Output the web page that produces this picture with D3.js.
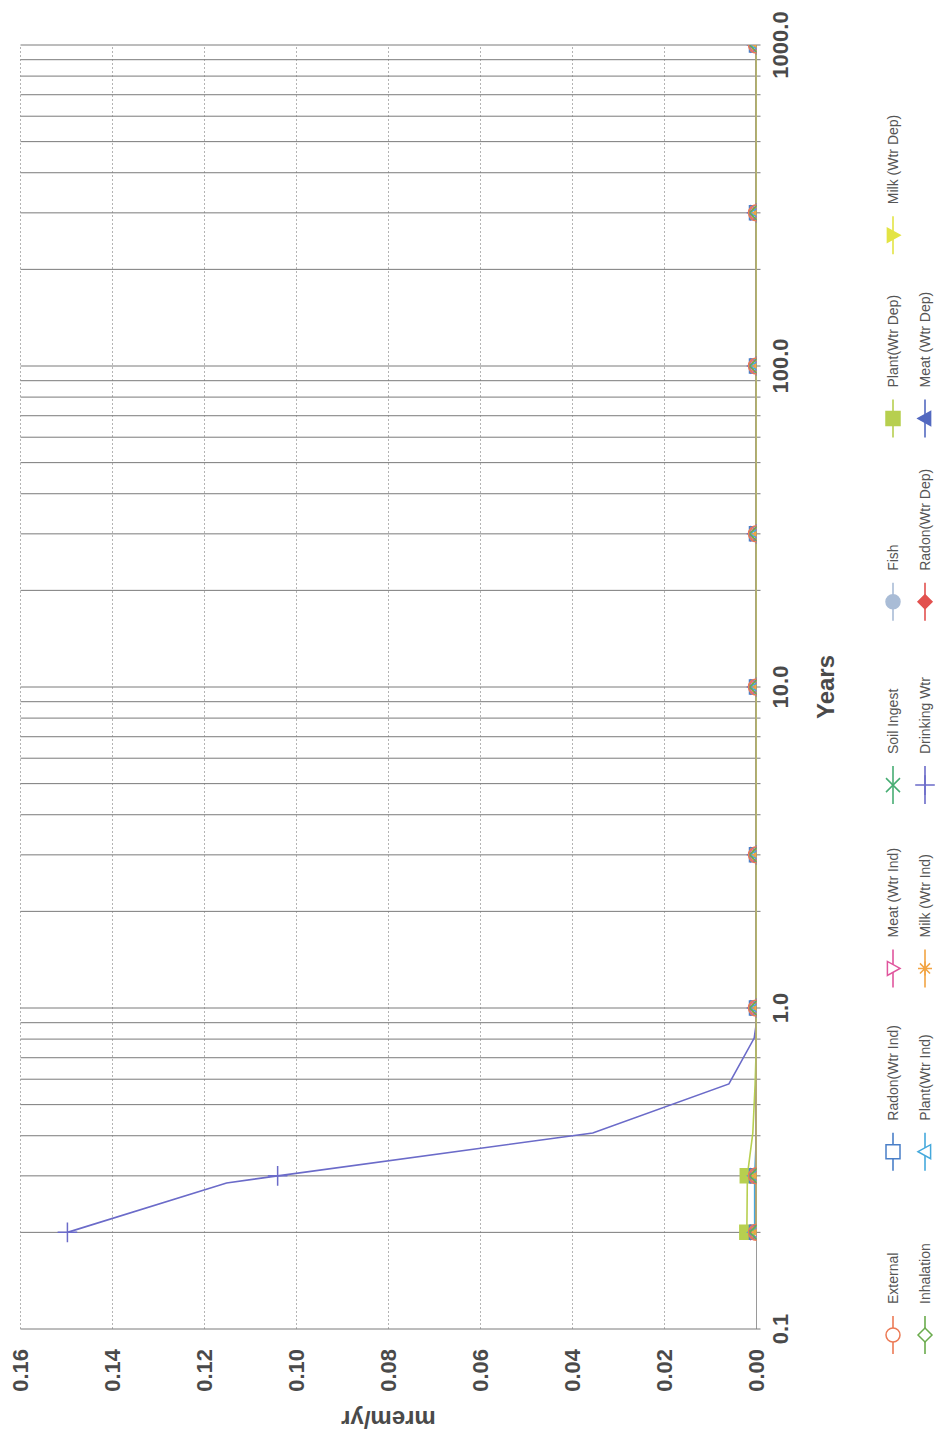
<!DOCTYPE html>
<html>
<head>
<meta charset="utf-8">
<script src="https://cdn.jsdelivr.net/npm/d3@7/dist/d3.min.js"></script>
<style>
  html, body { margin: 0; padding: 0; background: #ffffff; }
  svg { display: block; }
  text { font-family: "Liberation Sans", Arial, sans-serif; }
</style>
</head>
<body>
<svg id="chart" width="940" height="1437"></svg>
<script>
// Dose vs. time, mrem/yr per pathway (log time axis)
const curveYears = [0.2, 0.285, 0.3, 0.408, 0.58, 0.806, 0.904, 1, 3, 10, 30, 100, 300, 1000];
const markerYears = [0.2, 0.3, 1, 3, 10, 30, 100, 300, 1000];

const seriesNames = [
  "External", "Inhalation", "Radon(Wtr Ind)", "Plant(Wtr Ind)", "Meat (Wtr Ind)",
  "Milk (Wtr Ind)", "Soil Ingest", "Drinking Wtr", "Fish", "Radon(Wtr Dep)",
  "Plant(Wtr Dep)", "Meat (Wtr Dep)", "Milk (Wtr Dep)"
];
const seriesColors = [
  "#ec7a55", "#6aab4c", "#4a7fc8", "#45a9dc", "#e0559d",
  "#f2a443", "#47ad73", "#6b6bc9", "#a9bcd6", "#e2514f",
  "#b7cf4f", "#5369c0", "#e3e444"
];
const seriesSymbols = [
  "circle", "diamond", "square", "triUp", "triDown",
  "star", "cross", "plus", "circle", "diamond",
  "square", "triUp", "triDown"
];
const seriesFilled = [false, false, false, false, false, false, false, false, true, true, true, true, true];

const externalDose     = [0, 0, 0, 0, 0, 0, 0, 0, 0, 0, 0, 0, 0, 0];
const inhalationDose   = [0, 0, 0, 0, 0, 0, 0, 0, 0, 0, 0, 0, 0, 0];
const radonIndDose     = [0, 0, 0, 0, 0, 0, 0, 0, 0, 0, 0, 0, 0, 0];
const plantIndDose     = [0.0004, 0.0004, 0.0004, 0, 0, 0, 0, 0, 0, 0, 0, 0, 0, 0];
const meatIndDose      = [0, 0, 0, 0, 0, 0, 0, 0, 0, 0, 0, 0, 0, 0];
const milkIndDose      = [0, 0, 0, 0, 0, 0, 0, 0, 0, 0, 0, 0, 0, 0];
const soilIngestDose   = [0, 0, 0, 0, 0, 0, 0, 0, 0, 0, 0, 0, 0, 0];
const drinkingDose     = [0.1498, 0.1152, 0.1041, 0.0356, 0.0060, 0.0005, 0, 0, 0, 0, 0, 0, 0, 0];
const fishDose         = [0, 0, 0, 0, 0, 0, 0, 0, 0, 0, 0, 0, 0, 0];
const radonDepDose     = [0, 0, 0, 0, 0, 0, 0, 0, 0, 0, 0, 0, 0, 0];
const plantDepDose     = [0.0021, 0.0020, 0.0020, 0.0008, 0.0003, 0, 0, 0, 0, 0, 0, 0, 0, 0];
const meatDepDose      = [0, 0, 0, 0, 0, 0, 0, 0, 0, 0, 0, 0, 0, 0];
const milkDepDose      = [0, 0, 0, 0, 0, 0, 0, 0, 0, 0, 0, 0, 0, 0];

const seriesValues = [
  externalDose, inhalationDose, radonIndDose, plantIndDose, meatIndDose,
  milkIndDose, soilIngestDose, drinkingDose, fishDose, radonDepDose,
  plantDepDose, meatDepDose, milkDepDose
];

const doseTicks = [0, 0.02, 0.04, 0.06, 0.08, 0.10, 0.12, 0.14, 0.16];
const yearLabels = [0.1, 1, 10, 100, 1000];

// The chart is laid out landscape (W x H) and turned a quarter turn counter-clockwise.
const W = 1437, H = 940;
const svg = d3.select("#chart");
const g = svg.append("g").attr("transform", `translate(0,${W}) rotate(-90)`);

const x = d3.scaleLog().domain([0.1, 1000]).range([108, 1392]);
const y = d3.scaleLinear().domain([0, 0.16]).range([756.5, 20.5]);

// clip for plotted marks
g.append("clipPath").attr("id", "plotClip")
  .append("rect")
  .attr("x", x.range()[0]).attr("y", y.range()[1])
  .attr("width", x.range()[1] - x.range()[0])
  .attr("height", y.range()[0] - y.range()[1]);

// value grid (dotted)
g.append("g").selectAll("line").data(doseTicks).join("line")
  .attr("x1", x.range()[0]).attr("x2", x.range()[1])
  .attr("y1", d => y(d)).attr("y2", d => y(d))
  .attr("stroke", d => d === 0 ? "#9a9a9a" : "#b4b4b4")
  .attr("stroke-width", 1)
  .attr("stroke-dasharray", d => d === 0 ? null : "2,2");

// time grid (log)
const logTicks = x.ticks();
g.append("g").selectAll("line").data(logTicks).join("line")
  .attr("x1", d => x(d)).attr("x2", d => x(d))
  .attr("y1", y.range()[1]).attr("y2", y.range()[0] + 4)
  .attr("stroke", "#7a7a7a")
  .attr("stroke-width", 1);

// axis tick labels
g.append("g").selectAll("text").data(doseTicks).join("text")
  .attr("x", 88).attr("y", d => y(d)).attr("dy", "0.36em")
  .attr("text-anchor", "end")
  .attr("font-size", 22).attr("font-weight", "bold").attr("fill", "#4a4a4a")
  .text(d => d.toFixed(2));

g.append("g").selectAll("text").data(yearLabels).join("text")
  .attr("x", d => x(d)).attr("y", 788)
  .attr("text-anchor", "middle")
  .attr("font-size", 22).attr("font-weight", "bold").attr("fill", "#4a4a4a")
  .text(d => d.toFixed(1));

// axis titles
g.append("text")
  .attr("x", (x.range()[0] + x.range()[1]) / 2).attr("y", 834)
  .attr("text-anchor", "middle")
  .attr("font-size", 24).attr("font-weight", "bold").attr("fill", "#4a4a4a")
  .text("Years");

g.append("text")
  .attr("transform", `translate(26,${(y.range()[0] + y.range()[1]) / 2}) rotate(-90)`)
  .attr("text-anchor", "middle")
  .attr("font-size", 24).attr("font-weight", "bold").attr("fill", "#4a4a4a")
  .text("mrem/yr");

// marker shapes
function markerPath(type, s) {
  switch (type) {
    case "circle": return d3.symbol(d3.symbolCircle, Math.PI * s * s)();
    case "square": return `M${-s},${-s}H${s}V${s}H${-s}Z`;
    case "diamond": return `M0,${-s}L${s},0L0,${s}L${-s},0Z`;
    case "triUp": return `M0,${-s}L${s},${s * 0.8}L${-s},${s * 0.8}Z`;
    case "triDown": return `M0,${s}L${s},${-s * 0.8}L${-s},${-s * 0.8}Z`;
    case "cross": return `M${-s},${-s}L${s},${s}M${-s},${s}L${s},${-s}`;
    case "plus": { const p = s * 1.4; return `M${-p},0H${p}M0,${-p}V${p}`; }
    case "star": {
      const d = s * 0.72;
      return `M${-s},0H${s}M0,${-s}V${s}M${-d},${-d}L${d},${d}M${-d},${d}L${d},${-d}`;
    }
  }
}
const markerSize = { circle: 8, square: 7, diamond: 7, triUp: 7, triDown: 7, cross: 6, plus: 7, star: 7 };

const line = d3.line().x(d => x(d.t)).y(d => y(d.v));
const plot = g.append("g").attr("clip-path", "url(#plotClip)");

const series = seriesNames.map((name, i) => ({
  name, color: seriesColors[i], symbol: seriesSymbols[i], filled: seriesFilled[i],
  points: curveYears.map((t, k) => ({ t, v: seriesValues[i][k] }))
}));

// lines
plot.selectAll("path.series").data(series).join("path")
  .attr("class", "series")
  .attr("d", s => line(s.points))
  .attr("fill", "none")
  .attr("stroke", s => s.color)
  .attr("stroke-width", 1.6);

// markers: solid-marker pathways only mark non-zero doses; first series on top
series.slice().reverse().forEach(s => {
  const pts = s.points.filter(p => markerYears.includes(p.t) && (!s.filled || p.v > 0));
  plot.append("g").selectAll("path").data(pts).join("path")
    .attr("transform", p => `translate(${x(p.t)},${y(p.v)})`)
    .attr("d", markerPath(s.symbol, markerSize[s.symbol]))
    .attr("fill", s.filled ? s.color : "none")
    .attr("stroke", s.color)
    .attr("stroke-width", 1.5);
});

// legend: two rows, column-major order
const legend = g.append("g");
const legendRowY = [893, 925];
const legendCol0 = 102, legendColStep = 183.3;
series.forEach((s, i) => {
  const col = Math.floor(i / 2), row = i % 2;
  const cx = legendCol0 + col * legendColStep, cy = legendRowY[row];
  const it = legend.append("g").attr("transform", `translate(${cx},${cy})`);
  it.append("line").attr("x1", -19).attr("x2", 19)
    .attr("stroke", s.color).attr("stroke-width", 1.6);
  it.append("path").attr("d", markerPath(s.symbol, 7))
    .attr("fill", s.filled ? s.color : "#ffffff")
    .attr("stroke", s.color).attr("stroke-width", 1.5);
  it.append("text").attr("x", 31).attr("dy", "0.35em")
    .attr("font-size", 14).attr("fill", "#555555")
    .text(s.name);
});
</script>
</body>
</html>
